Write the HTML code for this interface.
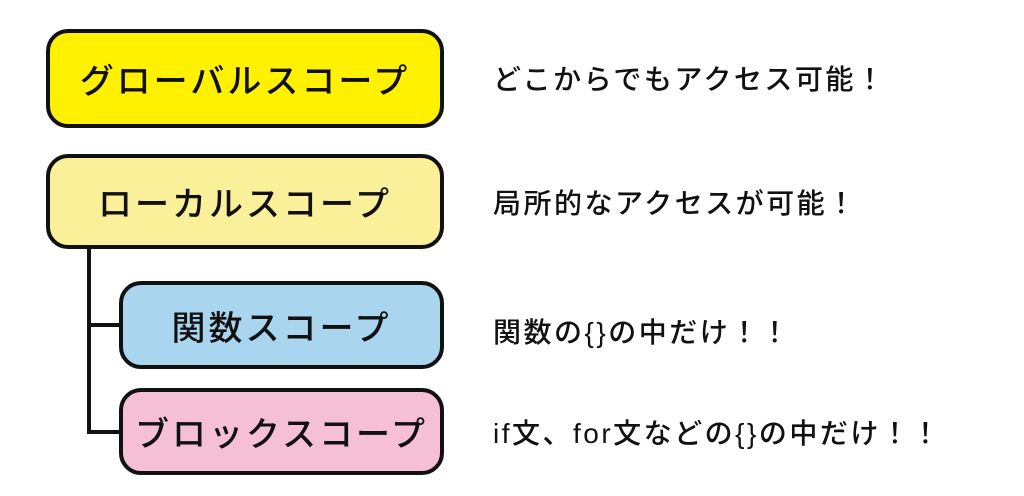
<!DOCTYPE html>
<html><head><meta charset="utf-8"><style>
body{margin:0;width:1024px;height:496px;background:#fff;position:relative;overflow:hidden;font-family:"Liberation Sans","Noto Sans CJK JP",sans-serif;}
.b{position:absolute;box-sizing:border-box;border:4px solid #111;border-radius:22px;display:flex;align-items:center;justify-content:center;font-size:34px;font-weight:500;color:#111;letter-spacing:3px}
.t{position:absolute;left:493px;font-size:28px;color:#111;font-weight:500;line-height:1;letter-spacing:2.5px;white-space:nowrap}
.l{position:absolute;background:#111}
</style></head><body>
<div class="l" style="left:87px;top:245px;width:4px;height:189px"></div>
<div class="l" style="left:87px;top:323px;width:36px;height:4px"></div>
<div class="l" style="left:87px;top:430px;width:36px;height:4px"></div>
<div class="b" style="left:46px;top:29px;width:398px;height:99px;background:#FFF100">グローバルスコープ</div>
<div class="b" style="left:46px;top:154px;width:398px;height:95px;background:#FAF09A">ローカルスコープ</div>
<div class="b" style="left:119px;top:281px;width:325px;height:88px;background:#A9D5EE">関数スコープ</div>
<div class="b" style="left:119px;top:388px;width:325px;height:87px;background:#F5C0D5">ブロックスコープ</div>
<div class="t" style="top:66px">どこからでもアクセス可能！</div>
<div class="t" style="top:190px">局所的なアクセスが可能！</div>
<div class="t" style="top:319px">関数の{}の中だけ！！</div>
<div class="t" style="top:420px">if文、for文などの{}の中だけ！！</div>
</body></html>
